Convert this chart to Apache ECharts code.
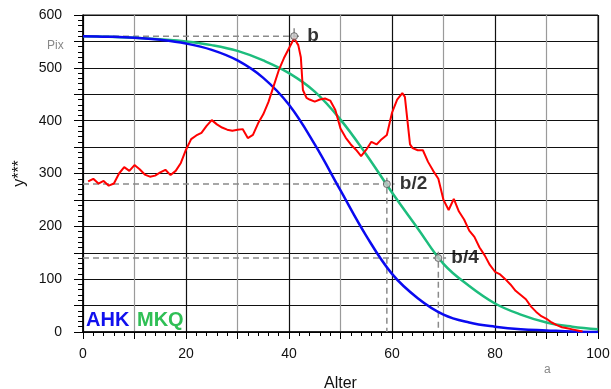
<!DOCTYPE html>
<html><head><meta charset="utf-8">
<script src="https://cdn.jsdelivr.net/npm/echarts@6/dist/echarts.min.js"></script>
<style>html,body{margin:0;padding:0;background:#fff}#c{width:611px;height:389px}</style>
</head><body><div id="c"></div>
<script>
// Red (empirical) series: [Alter, y]
const redData = [[1,285],[2,290],[3,281],[4,286],[5,277],[6,281],[7,300],[8,312],[9,305],[10,316],[11,308],[12,298],[13,294],[14,296],[15,302],[16,307],[17,297],[18,305],[19,320],[20,345],[21,365],[22,372],[23,377],[24,390],[25,401],[26,393],[27,387],[28,383],[29,381],[30,383],[31,384],[32,367],[33,373],[34,395],[35,412],[36,435],[37,465],[38,495],[39,518],[40,537],[41,556],[41.8,543],[42.3,520],[42.7,458],[43.4,443],[44,440],[45,436],[46,440],[47,442],[48,438],[49,420],[50,385],[51,368],[52,355],[53,345],[54,333],[55,345],[56,360],[57,355],[58,365],[59,373],[60,415],[61,440],[62,452],[62.5,445],[63.5,355],[64,348],[65,344],[66,344],[67,322],[68,305],[69,290],[70,250],[71,231],[72,252],[73,228],[74,213],[75,192],[76,180],[77,160],[78,145],[79,127],[80,114],[81,109],[82,100],[83,90],[84,78],[85,70],[86,62],[87,48],[88,38],[89,30],[90,25],[91,18],[92,13],[93,9],[94,7],[95,5],[96,3],[97,1]];
// AHK model curve
const ahkData = [[0,560],[5,559],[10,557],[15,553],[20,546],[25,534],[30,514],[35,481],[40,430],[45,355],[50,268],[55,182],[60,110],[65,64],[70,33],[75,18],[80,10],[85,5],[90,3],[95,1],[100,0]];
// MKQ model curve
const mkqData = [[0,560],[5,559],[10,557],[15,554],[20,550],[25,543],[30,532],[35,514],[40,490],[45,455],[50,402],[55,336],[60,264],[65,196],[70,129],[75,87],[80,54],[85,33],[90,18],[95,10],[100,5]];
// Characteristic points
const keyPoints = [{name:'b', x:41, y:560, down:false},{name:'b/2', x:59, y:280, down:true},{name:'b/4', x:69, y:140, down:true}];
const xTicks = [0,20,40,60,80,100];
const yTicks = [0,100,200,300,400,500,600];

const FONT = 'Liberation Sans, Arial, sans-serif';
const guideSeries = [];
keyPoints.forEach(p => {
  guideSeries.push({type:'line', silent:true, symbol:'none', z:3,
    lineStyle:{color:'#8a8a8a', width:1.5, type:[6,4]},
    data:[[0,p.y],[p.x+1.5,p.y]]});
  guideSeries.push({type:'line', silent:true, symbol:'none', z:3,
    lineStyle:{color:'#8a8a8a', width:1.5, type: p.down ? [6,4] : 'solid'},
    data: p.down ? [[p.x,p.y+12],[p.x,0]] : [[p.x,p.y],[p.x,p.y+15]]});
});

const chart = echarts.init(document.getElementById('c'), null, {renderer:'canvas'});
chart.setOption({
  animation:false,
  grid:{left:83, right:13, top:15, bottom:57, containLabel:false, outerBoundsMode:'none',
    show:true, borderColor:'#111', borderWidth:1},
  xAxis:{type:'value', min:0, max:100, interval:10,
    name:'Alter', nameLocation:'middle', nameGap:44,
    nameTextStyle:{fontFamily:FONT, fontSize:16, color:'#111'},
    axisLine:{show:true, onZero:false, lineStyle:{color:'#000', width:1.5}},
    axisTick:{show:true, length:7, lineStyle:{color:'#000'}},
    minorTick:{show:true, splitNumber:5, length:4, lineStyle:{color:'#000'}},
    axisLabel:{fontFamily:FONT, fontSize:14, color:'#111', margin:15,
      formatter: v => xTicks.includes(v) ? String(v) : ''},
    splitLine:{show:true, lineStyle:{color:['#111','#9a9a9a'], width:1.2}}},
  yAxis:{type:'value', min:0, max:600, interval:50,
    name:'y***', nameLocation:'middle', nameGap:54, nameRotate:90,
    nameTextStyle:{fontFamily:FONT, fontSize:16, color:'#111'},
    axisLine:{show:true, lineStyle:{color:'#000', width:1.5}},
    axisTick:{show:true, length:9, lineStyle:{color:'#000'}},
    minorTick:{show:true, splitNumber:5, length:5, lineStyle:{color:'#000'}},
    axisLabel:{fontFamily:FONT, fontSize:14, color:'#111', margin:21,
      formatter: v => yTicks.includes(v) ? String(v) : ''},
    splitLine:{show:true, lineStyle:{color:'#111', width:1}}},
  series:[
    {name:'MKQ', type:'line', data:mkqData, symbol:'none', smooth:0.4, z:4,
      lineStyle:{color:'#1dbd7d', width:2.5}},
    {name:'AHK', type:'line', data:ahkData, symbol:'none', smooth:0.4, z:5,
      lineStyle:{color:'#0a0af0', width:2.5}},
    {name:'Empirie', type:'line', data:redData, symbol:'none', z:6,
      lineStyle:{color:'#ff0000', width:2}},
    ...guideSeries,
    {type:'scatter', z:10, symbol:'circle', symbolSize:7,
      itemStyle:{color:'#c8c8c8', borderColor:'#555', borderWidth:1},
      label:{show:true, position:'right', distance:9, formatter:'{b}',
        fontFamily:FONT, fontSize:19, fontWeight:'bold', color:'#000'},
      data:keyPoints.map(p => ({name:p.name, value:[p.x,p.y]}))}
  ],
  graphic:[
    {type:'text', left:47, top:40, style:{text:'Pix', fontFamily:FONT, fontSize:12, fill:'#888'}},
    {type:'text', left:544, top:364, style:{text:'a', fontFamily:FONT, fontSize:12, fill:'#888'}},
    {type:'text', left:86, top:310, z:20, style:{text:'AHK', fontFamily:FONT, fontSize:20, fontWeight:'bold', fill:'#1010ee'}},
    {type:'text', left:137, top:310, z:20, style:{text:'MKQ', fontFamily:FONT, fontSize:20, fontWeight:'bold', fill:'#2fbf55'}}
  ]
});
</script></body></html>
